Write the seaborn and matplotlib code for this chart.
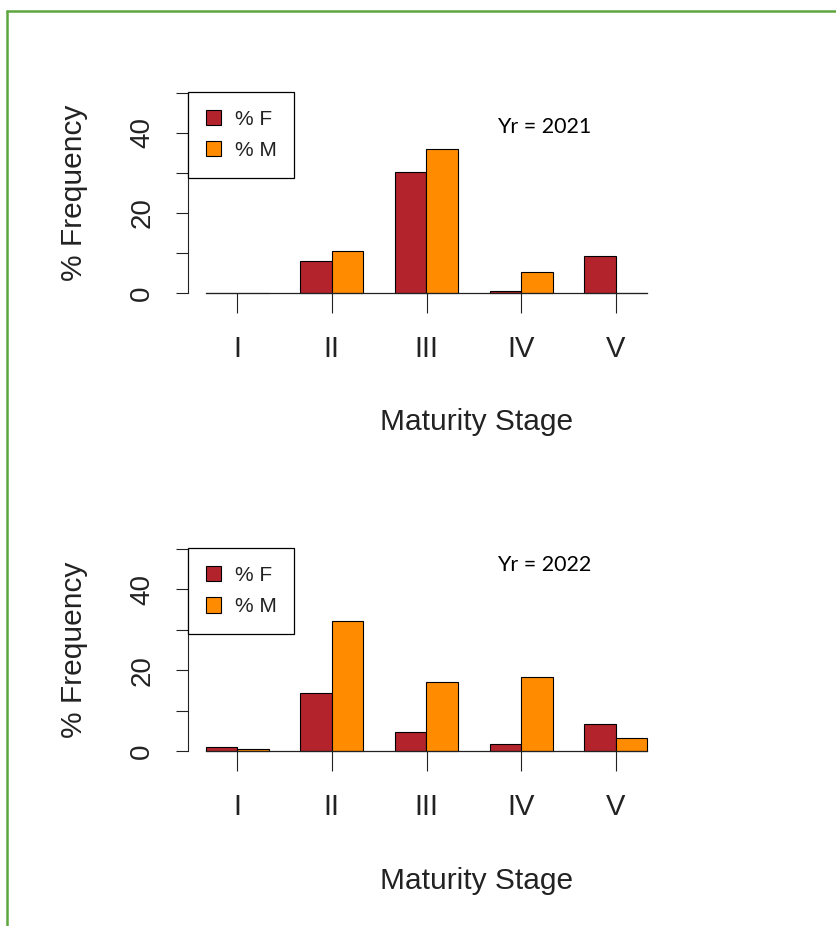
import matplotlib
matplotlib.use("Agg")
import matplotlib.pyplot as plt
from matplotlib.lines import Line2D
import pandas as pd
import seaborn as sns

# Maturity stages and % frequency by sex for each year
stages = ["I", "II", "III", "IV", "V"]
sexes = ["% F", "% M"]
female_2021 = [0.0, 8.0, 30.3, 0.4, 9.3]
male_2021 = [0.0, 10.5, 35.9, 5.2, 0.0]
female_2022 = [1.0, 14.3, 4.7, 1.8, 6.7]
male_2022 = [0.6, 32.2, 17.0, 18.4, 3.3]
years = ["2021", "2022"]

F_COLOR = "#B2232B"
M_COLOR = "#FF8C00"
TEXT = "#222222"

sns.set_theme(style="white")
plt.rcParams["font.family"] = ["Liberation Sans", "DejaVu Sans"]


def long_table(fem, mal):
    return pd.DataFrame({
        "stage": stages * 2,
        "sex": [sexes[0]] * len(stages) + [sexes[1]] * len(stages),
        "pct": list(fem) + list(mal),
    })


W, H = 837, 926
fig = plt.figure(figsize=(W / 100, H / 100), dpi=100)
fig.patch.set_facecolor("white")

ax_top = fig.add_axes([188 / W, 1 - 301 / H, 477 / W, 216 / H])
ax_bot = fig.add_axes([188 / W, 1 - 759 / H, 477 / W, 218 / H])

panels = [
    (ax_top, long_table(female_2021, male_2021), years[0], 41.5),
    (ax_bot, long_table(female_2022, male_2022), years[1], 46.0),
]

for ax, df, yr, yr_y in panels:
    sns.barplot(data=df, x="stage", y="pct", hue="sex", order=stages,
                hue_order=sexes, palette=[F_COLOR, M_COLOR], width=2 / 3,
                gap=0, errorbar=None, edgecolor="black", linewidth=0.8,
                saturation=1, ax=ax)
    ax.set_xlim(-0.52, 4.52)
    ax.set_ylim(-2, 52)
    ax.set_facecolor("none")

    for side in ("top", "right"):
        ax.spines[side].set_visible(False)
    ax.spines["left"].set_bounds(0, 50)
    ax.spines["left"].set_color(TEXT)
    ax.spines["left"].set_linewidth(0.8)
    ax.spines["bottom"].set_position(("data", 0))
    ax.spines["bottom"].set_bounds(-1 / 3, 4 + 1 / 3)
    ax.spines["bottom"].set_color(TEXT)
    ax.spines["bottom"].set_linewidth(0.9)

    ax.set_yticks(range(0, 51, 10))
    ax.set_yticklabels(["0", "", "20", "", "40", ""])
    ax.tick_params(axis="y", direction="out", length=8.6, width=0.8,
                   color=TEXT, labelsize=20, labelcolor=TEXT, pad=15,
                   left=True)
    for lbl in ax.get_yticklabels():
        lbl.set_rotation(90)
        lbl.set_va("center")
        lbl.set_ha("right")
    ax.tick_params(axis="x", direction="out", length=14.4, width=0.8,
                   color=TEXT, labelsize=21, labelcolor=TEXT, pad=16,
                   bottom=True)

    ax.set_xlabel("Maturity Stage", fontsize=21.5, color=TEXT)
    ax.xaxis.set_label_coords(0.606, -0.495)
    ax.set_ylabel("% Frequency", fontsize=21.5, color=TEXT)
    ax.yaxis.set_label_coords(-0.21, 0.5)

    handles, labels = ax.get_legend_handles_labels()
    leg = ax.legend(handles, labels, loc="upper left",
                    bbox_to_anchor=(0, 0.968), fontsize=15,
                    handlelength=0.75, handleheight=0.75,
                    handletextpad=0.65, borderpad=0.85, labelspacing=0.6,
                    borderaxespad=0, fancybox=False, framealpha=1,
                    edgecolor="black")
    leg.get_frame().set_linewidth(0.9)
    for t in leg.get_texts():
        t.set_color(TEXT)

    ax.text(2.74, yr_y, f"Yr = {yr}", fontsize=15.5, ha="left",
            va="center", color="black", family=["Lato", "DejaVu Sans"])

# Green frame around the figure
green = "#5DA63F"
fig.add_artist(Line2D([7 / W, 1], [1 - 10.5 / H] * 2,
                      transform=fig.transFigure, color=green, lw=1.8))
fig.add_artist(Line2D([7 / W] * 2, [0, 1 - 10.5 / H],
                      transform=fig.transFigure, color=green, lw=1.8))

fig.savefig("out.png", dpi=100, facecolor="white")
